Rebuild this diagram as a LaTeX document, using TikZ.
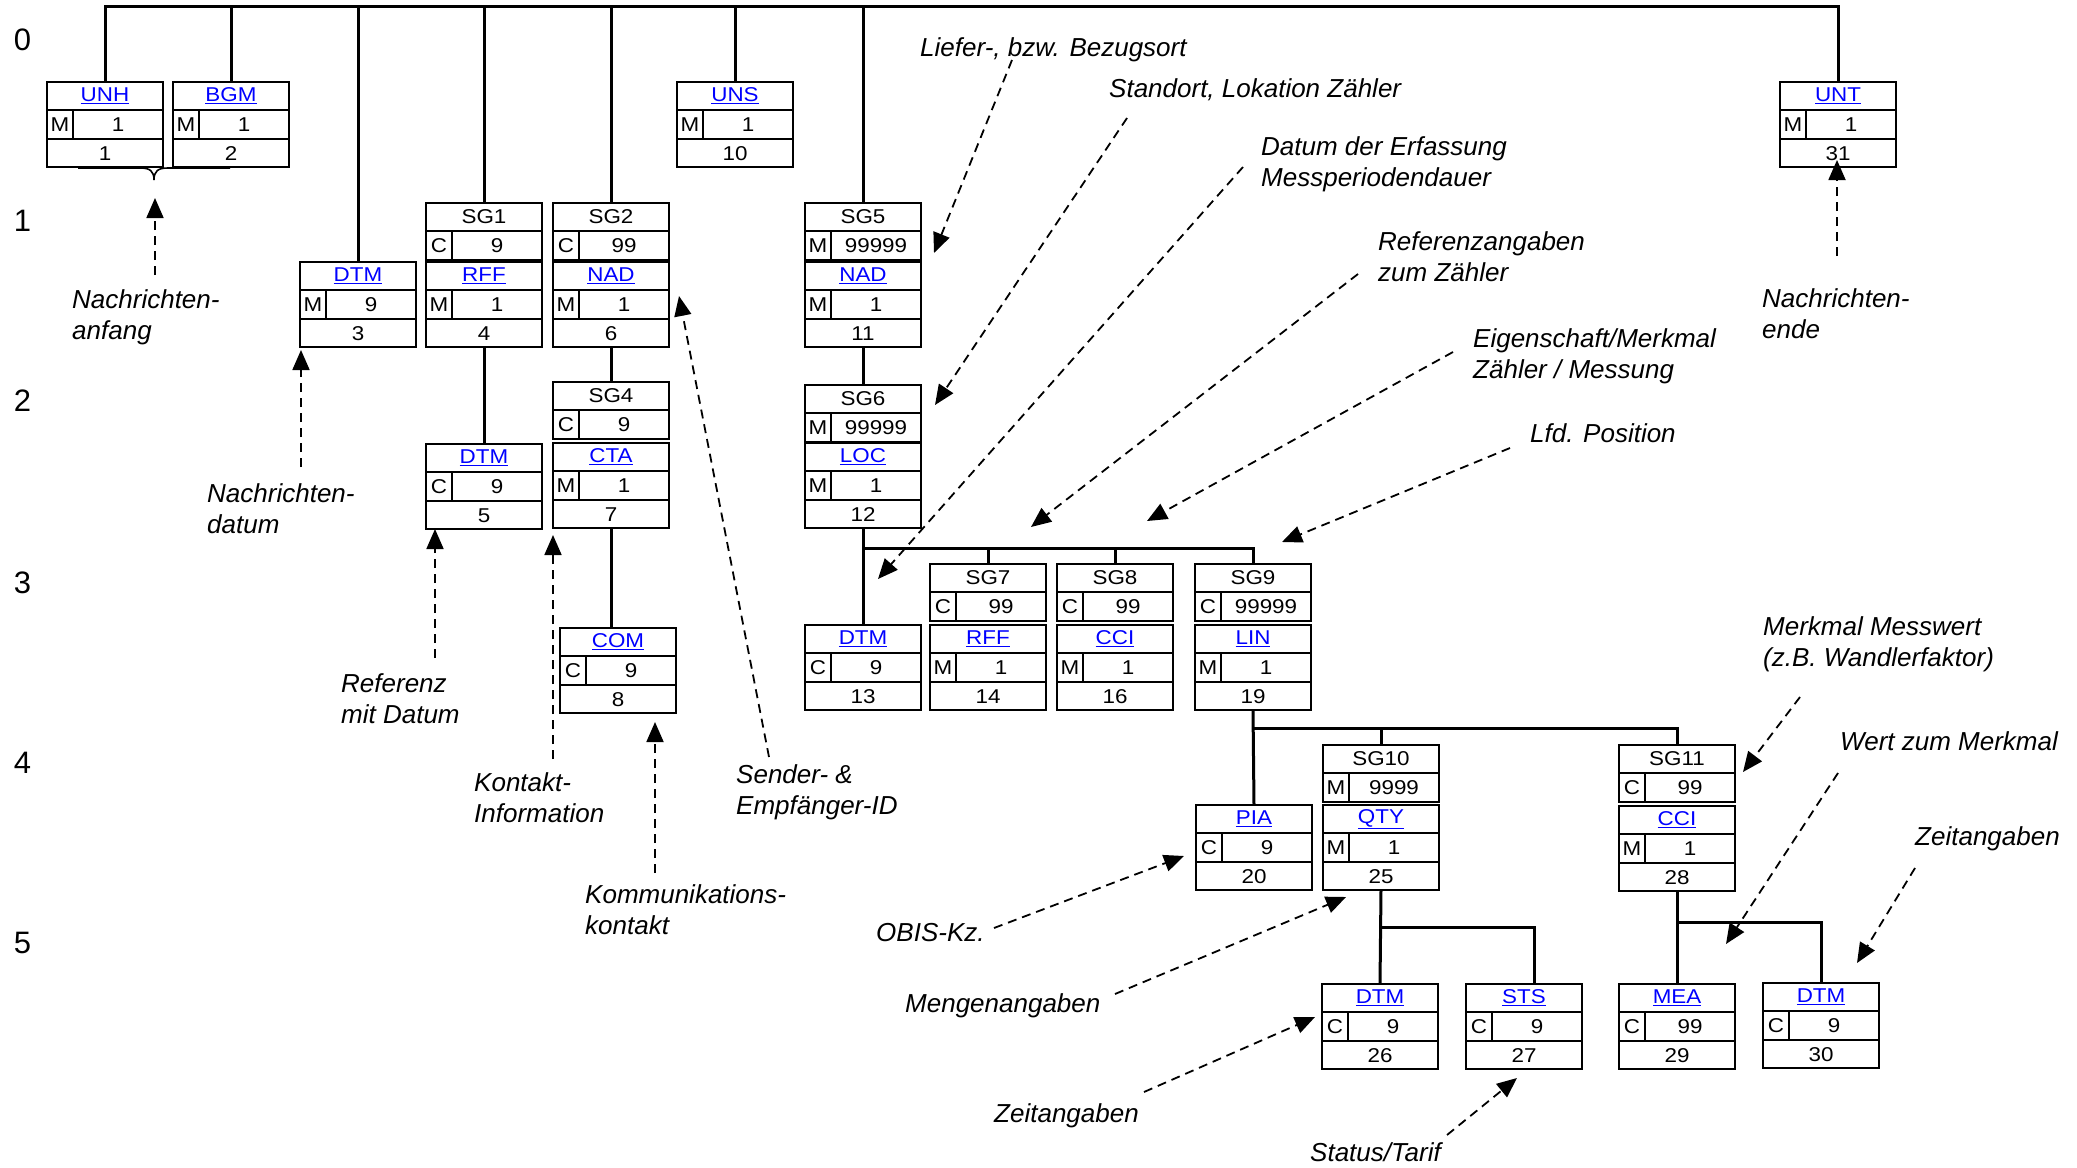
\documentclass[tikz,border=0pt]{standalone}
\usepackage{fontspec}
\setmainfont{Liberation Sans}
\newfontfamily\boxfont[FakeStretch=1.12]{Liberation Sans}
\usetikzlibrary{arrows.meta}
\definecolor{segblue}{RGB}{0,0,255}
\tikzset{
  segframe/.style={draw, line width=2.6pt, minimum width=116pt, minimum height=85pt, inner sep=0pt, outer sep=0pt},
  grpframe/.style={segframe, minimum height=57pt},
  innerline/.style={line width=1.6pt},
  conn/.style={line width=3pt},
  btxt/.style={font=\boxfont\fontsize{20}{24}\selectfont, inner sep=0pt, anchor=center},
  anno/.style={font=\itshape\fontsize{26}{31}\selectfont, inner sep=0pt, anchor=base west},
  lvl/.style={font=\fontsize{31}{36}\selectfont, inner sep=0pt},
  pointer/.style={line width=1.8pt, dash pattern=on 9pt off 6pt, -{Triangle[length=20pt,width=17pt]}},
}
% #1 name, #2 x, #3 y, #4 label, #5 status, #6 count, #7 number
\newcommand\SegBox[7]{%
  \node[segframe, anchor=north west] (#1) at (#2,#3) {};
  \draw[innerline] (#2,#3+28) -- (#2+116,#3+28);
  \draw[innerline] (#2,#3+57) -- (#2+116,#3+57);
  \draw[innerline] (#2+26,#3+28) -- (#2+26,#3+57);
  \node[btxt] (#1-n) at (#2+58,#3+14) {\textcolor{segblue}{\underline{#4}}};
  \node[btxt] (#1-s) at (#2+13,#3+43) {#5};
  \node[btxt] (#1-c) at (#2+71,#3+43) {#6};
  \node[btxt] (#1-p) at (#2+58,#3+71.5) {#7};
}
% #1 name, #2 x, #3 y, #4 label, #5 status, #6 count
\newcommand\GrpBox[6]{%
  \node[grpframe, anchor=north west] (#1) at (#2,#3) {};
  \draw[innerline] (#2,#3+28) -- (#2+116,#3+28);
  \draw[innerline] (#2+26,#3+28) -- (#2+26,#3+57);
  \node[btxt] (#1-n) at (#2+58,#3+14) {#4};
  \node[btxt] (#1-s) at (#2+13,#3+43) {#5};
  \node[btxt] (#1-c) at (#2+71,#3+43) {#6};
}
\newcommand\twoline[2]{\vtop{\hbox{#1}\hbox{#2}}}
\begin{document}
\begin{tikzpicture}[x=1pt,y=-1pt]
\useasboundingbox (0,0) rectangle (2077,1167);

% level labels
\node[lvl] (l0) at (22.5,40) {0};
\node[lvl] (l1) at (22.5,221) {1};
\node[lvl] (l2) at (22.5,401) {2};
\node[lvl] (l3) at (22.5,583) {3};
\node[lvl] (l4) at (22.5,763) {4};
\node[lvl] (l5) at (22.5,943) {5};

% boxes
\SegBox{unh}{47}{82}{UNH}{M}{1}{1}
\SegBox{bgm}{173}{82}{BGM}{M}{1}{2}
\SegBox{dtma}{300}{262}{DTM}{M}{9}{3}
\GrpBox{sga}{426}{203}{SG1}{C}{9}
\SegBox{rffa}{426}{262}{RFF}{M}{1}{4}
\SegBox{dtmb}{426}{444}{DTM}{C}{9}{5}
\GrpBox{sgb}{553}{203}{SG2}{C}{99}
\SegBox{nada}{553}{262}{NAD}{M}{1}{6}
\GrpBox{sgd}{553}{382}{SG4}{C}{9}
\SegBox{cta}{553}{443}{CTA}{M}{1}{7}
\SegBox{com}{560}{628}{COM}{C}{9}{8}
\SegBox{uns}{677}{82}{UNS}{M}{1}{10}
\GrpBox{sge}{805}{203}{SG5}{M}{99999}
\SegBox{nadb}{805}{262}{NAD}{M}{1}{11}
\GrpBox{sgf}{805}{385}{SG6}{M}{99999}
\SegBox{loc}{805}{443}{LOC}{M}{1}{12}
\SegBox{dtmc}{805}{625}{DTM}{C}{9}{13}
\GrpBox{sgg}{930}{564}{SG7}{C}{99}
\SegBox{rffb}{930}{625}{RFF}{M}{1}{14}
\GrpBox{sgh}{1057}{564}{SG8}{C}{99}
\SegBox{ccia}{1057}{625}{CCI}{M}{1}{16}
\GrpBox{sgi}{1195}{564}{SG9}{C}{99999}
\SegBox{lin}{1195}{625}{LIN}{M}{1}{19}
\SegBox{pia}{1196}{805}{PIA}{C}{9}{20}
\GrpBox{sgj}{1323}{745}{SG10}{M}{9999}
\SegBox{qty}{1323}{805}{QTY}{M}{1}{25}
\GrpBox{sgk}{1619}{745}{SG11}{C}{99}
\SegBox{ccib}{1619}{806}{CCI}{M}{1}{28}
\SegBox{dtmd}{1322}{984}{DTM}{C}{9}{26}
\SegBox{sts}{1466}{984}{STS}{C}{9}{27}
\SegBox{mea}{1619}{984}{MEA}{C}{99}{29}
\SegBox{dtme}{1763}{983}{DTM}{C}{9}{30}
\SegBox{unt}{1780}{82}{UNT}{M}{1}{31}

% connectors
\coordinate (bus0) at (0,6);
\draw[conn] (unh.north) -- (unh.north |- bus0) -- (unt.north |- bus0) -- (unt.north);
\foreach \b in {bgm,dtma,sga,sgb,uns,sge} \draw[conn] (\b.north) -- (\b.north |- bus0);
\draw[conn] (rffa.south) -- (dtmb.north);
\draw[conn] (nada.south) -- (sgd.north);
\draw[conn] (cta.south) -- (cta.south |- com.north);
\draw[conn] (nadb.south) -- (sgf.north);
\coordinate (bus3) at (0,548);
\draw[conn] (loc.south) -- (dtmc.north);
\draw[conn] (loc.south |- bus3) -| (sgi.north);
\draw[conn] (sgg.north) -- (sgg.north |- bus3);
\draw[conn] (sgh.north) -- (sgh.north |- bus3);
\coordinate (bus4) at (0,728);
\draw[conn] (lin.south) -- (pia.north);
\draw[conn] (lin.south |- bus4) -| (sgk.north);
\draw[conn] (sgj.north) -- (sgj.north |- bus4);
\coordinate (bus5) at (1534,927);
\draw[conn] (qty.south) -- (dtmd.north);
\draw[conn] (qty.south |- bus5) -- (bus5) -- (bus5 |- sts.north);
\coordinate (bus6) at (0,922);
\draw[conn] (ccib.south) -- (mea.north);
\draw[conn] (ccib.south |- bus6) -| (dtme.north);

% brace under UNH/BGM
\draw[line width=1.6pt] (78,168) -- (140,168) .. controls (150,168) and (154,171) .. (154,180);
\draw[line width=1.6pt] (230,168) -- (168,168) .. controls (158,168) and (154,171) .. (154,180);

% annotations
\node[anno] (t1) at (72,308) {\twoline{Nachrichten-}{anfang}};
\node[anno] (t2) at (207,502) {\twoline{Nachrichten-}{datum}};
\node[anno] (t3) at (341,692) {\twoline{Referenz}{mit Datum}};
\node[anno] (t4) at (474,791) {\twoline{Kontakt-}{Information}};
\node[anno] (t5) at (585,903) {\twoline{Kommunikations-}{kontakt}};
\node[anno] (t6) at (736,783) {\twoline{Sender- \&}{Empfänger-ID}};
\node[anno] (t7) at (920,56) {Liefer-, bzw. Bezugsort};
\node[anno] (t8) at (1109,97) {Standort, Lokation Zähler};
\node[anno] (t9) at (1261,155) {\twoline{Datum der Erfassung}{Messperiodendauer}};
\node[anno] (t10) at (1378,250) {\twoline{Referenzangaben}{zum Zähler}};
\node[anno] (t11) at (1473,347) {\twoline{Eigenschaft/Merkmal}{Zähler / Messung}};
\node[anno] (t12) at (1530,442) {Lfd. Position};
\node[anno] (t13) at (1762,307) {\twoline{Nachrichten-}{ende}};
\node[anno] (t14) at (1763,635) {\twoline{Merkmal Messwert}{(z.B. Wandlerfaktor)}};
\node[anno] (t15) at (1840,750) {Wert zum Merkmal};
\node[anno] (t16) at (1915,845) {Zeitangaben};
\node[anno] (t17) at (876,941) {OBIS-Kz.};
\node[anno] (t18) at (905,1012) {Mengenangaben};
\node[anno] (t19) at (994,1122) {Zeitangaben};
\node[anno] (t20) at (1310,1161) {Status/Tarif};

% arrow end points
\coordinate (s1) at (155,275);   \coordinate (e1) at (155,198);
\coordinate (s2) at (301,467);   \coordinate (e2) at (301,350);
\coordinate (s3) at (435,658);   \coordinate (e3) at (435,529);
\coordinate (s4) at (553,759);   \coordinate (e4) at (553,535);
\coordinate (s5) at (655,873);   \coordinate (e5) at (655,722);
\coordinate (s6) at (769,757);   \coordinate (e6) at (679,296);
\coordinate (s7) at (1012,60);   \coordinate (e7) at (934,253);
\coordinate (s8) at (1127,118);  \coordinate (e8) at (935,405);
\coordinate (s9) at (1243,167);  \coordinate (e9) at (878,579);
\coordinate (s10) at (1358,274); \coordinate (e10) at (1031,527);
\coordinate (s11) at (1453,352); \coordinate (e11) at (1147,521);
\coordinate (s12) at (1510,448); \coordinate (e12) at (1282,542);
\coordinate (s13) at (1837,256); \coordinate (e13) at (1837,160);
\coordinate (s14) at (1800,697); \coordinate (e14) at (1743,772);
\coordinate (s15) at (1838,773); \coordinate (e15) at (1726,944);
\coordinate (s16) at (1915,868); \coordinate (e16) at (1857,963);
\coordinate (s17) at (994,928);  \coordinate (e17) at (1184,856);
\coordinate (s18) at (1115,994); \coordinate (e18) at (1346,897);
\coordinate (s19) at (1144,1092);\coordinate (e19) at (1315,1017);
\coordinate (s20) at (1447,1135);\coordinate (e20) at (1517,1078);
\foreach \i in {1,...,20} \draw[pointer] (s\i) -- (e\i);
\end{tikzpicture}
\end{document}
